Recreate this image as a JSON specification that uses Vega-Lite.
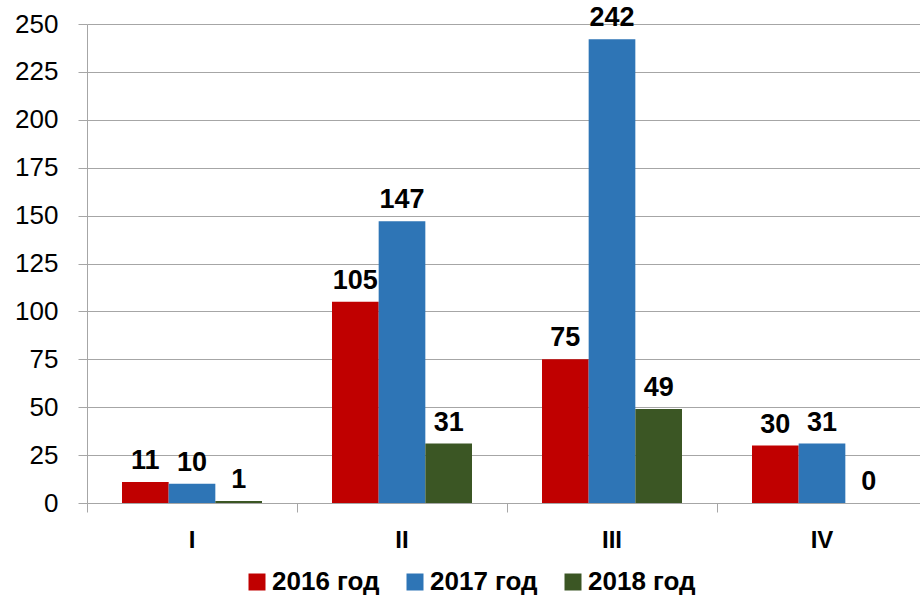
{
  "$schema": "https://vega.github.io/schema/vega-lite/v6.json",
  "width": 833,
  "height": 479,
  "autosize": {"type": "none"},
  "padding": {"left": 87, "top": 24, "right": 0, "bottom": 94},
  "background": "white",
  "config": {
    "view": {"stroke": null},
    "font": "Liberation Sans, Arial"
  },
  "data": {
    "values": [
      {"cat": "I", "year": "2016 год", "value": 11},
      {"cat": "I", "year": "2017 год", "value": 10},
      {"cat": "I", "year": "2018 год", "value": 1},
      {"cat": "II", "year": "2016 год", "value": 105},
      {"cat": "II", "year": "2017 год", "value": 147},
      {"cat": "II", "year": "2018 год", "value": 31},
      {"cat": "III", "year": "2016 год", "value": 75},
      {"cat": "III", "year": "2017 год", "value": 242},
      {"cat": "III", "year": "2018 год", "value": 49},
      {"cat": "IV", "year": "2016 год", "value": 30},
      {"cat": "IV", "year": "2017 год", "value": 31},
      {"cat": "IV", "year": "2018 год", "value": 0}
    ]
  },
  "resolve": {"axis": {"x": "independent", "y": "independent"}},
  "layer": [
    {
      "mark": {"type": "bar"},
      "encoding": {
        "x": {
          "field": "cat", "type": "nominal", "sort": ["I", "II", "III", "IV"],
          "scale": {"range": [0, 840], "paddingInner": 0, "paddingOuter": 0},
          "axis": {
            "title": null, "labels": false, "bandPosition": 0, "orient": "bottom",
            "domainColor": "#A6A6A6", "tickColor": "#A6A6A6", "tickSize": 9, "grid": false
          }
        },
        "xOffset": {
          "field": "year", "type": "nominal",
          "scale": {"paddingInner": 0, "paddingOuter": 0.75}
        },
        "y": {
          "field": "value", "type": "quantitative",
          "scale": {"domain": [0, 250], "nice": false},
          "axis": {
            "title": null,
            "values": [0, 25, 50, 75, 100, 125, 150, 175, 200, 225, 250],
            "domainColor": "#A6A6A6", "tickColor": "#A6A6A6", "tickSize": 9,
            "gridColor": "#A6A6A6", "grid": true,
            "labelFontSize": 26, "labelColor": "#000000", "labelPadding": 20
          }
        },
        "color": {
          "field": "year", "type": "nominal",
          "scale": {"domain": ["2016 год", "2017 год", "2018 год"], "range": ["#C00000", "#2E75B6", "#3B5624"]},
          "legend": {
            "title": null, "orient": "none", "direction": "horizontal",
            "legendX": 157, "legendY": 545,
            "symbolType": "square", "symbolSize": 289, "symbolStrokeWidth": 0,
            "labelFontSize": 26, "labelFontWeight": "bold", "labelColor": "#000000",
            "labelOffset": 2, "columnPadding": 22, "labelLimit": 300
          }
        }
      }
    },
    {
      "mark": {"type": "text", "baseline": "alphabetic", "dy": -13, "fontSize": 27, "fontWeight": "bold", "color": "#000000"},
      "encoding": {
        "x": {
          "field": "cat", "type": "nominal", "sort": ["I", "II", "III", "IV"],
          "axis": {
            "title": null, "domain": false, "ticks": false, "grid": false, "orient": "bottom",
            "labelAngle": 0, "labelFontSize": 24, "labelFontWeight": "bold",
            "labelColor": "#000000", "labelPadding": 25, "labelBaseline": "top"
          }
        },
        "xOffset": {"field": "year", "type": "nominal"},
        "y": {"field": "value", "type": "quantitative", "axis": null},
        "text": {"field": "value", "type": "quantitative"}
      }
    }
  ]
}
